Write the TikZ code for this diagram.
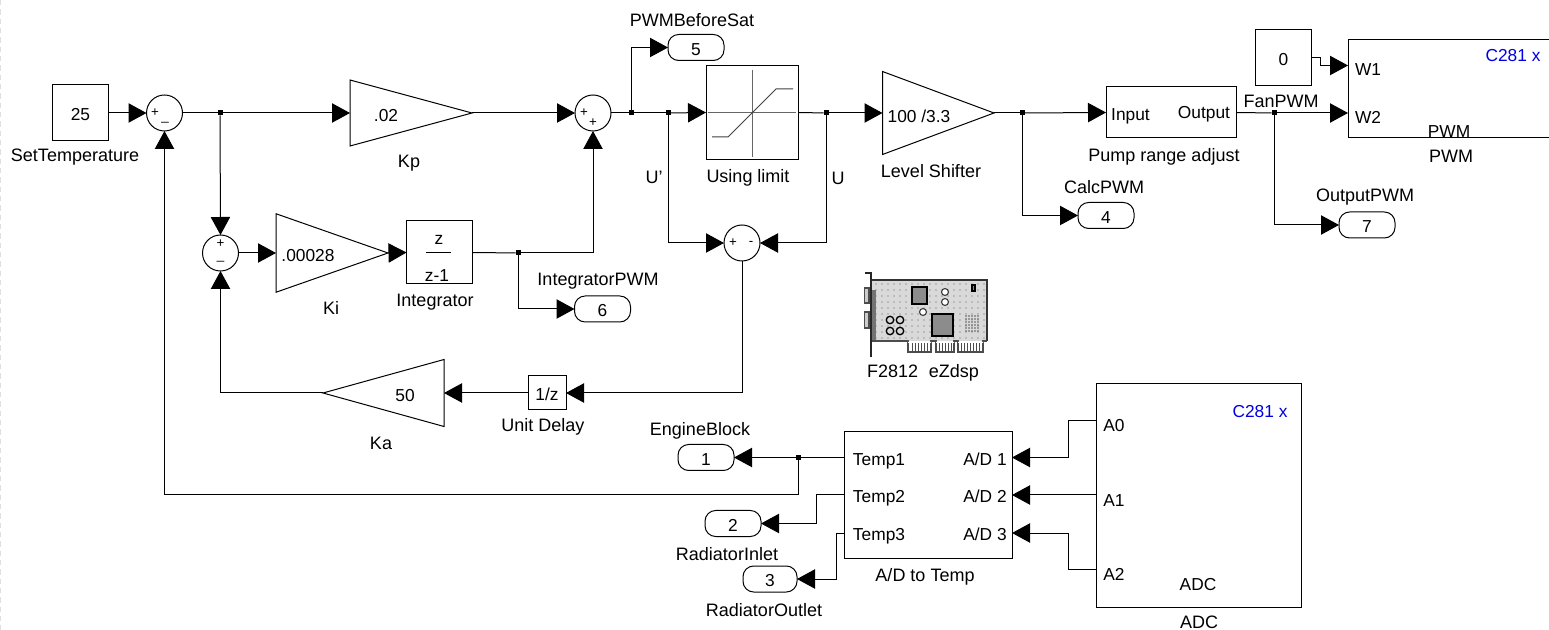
\documentclass[tikz,border=0pt]{standalone}
\usepackage{fontspec}
\setmainfont{Liberation Sans}
\usetikzlibrary{arrows.meta,shapes.geometric}
\tikzset{
  x=.75pt,y=-.75pt,
  every node/.style={inner sep=0pt,outer sep=0pt},
  lbl/.style={font=\fontsize{13.5}{15}\selectfont,text=black,yshift=-1.1pt},
  inlbl/.style={font=\fontsize{13}{15}\selectfont,text=black,yshift=-1.1pt},
  sgn/.style={font=\fontsize{10}{12}\selectfont},
  block/.style={draw=black,line width=.75pt,rectangle,font=\fontsize{13}{15}\selectfont,text height=11.5pt,text depth=0pt},
  sz/.style 2 args={minimum width=#1*.75pt,minimum height=#2*.75pt},
  sumblk/.style={draw=black,line width=.75pt,circle,minimum size=36*.75pt},
  outp/.style={draw=black,line width=.75pt,rectangle,rounded corners=8pt,font=\fontsize{13}{15}\selectfont,text height=11.5pt,text depth=0pt,minimum width=56*.75pt,minimum height=26*.75pt},
  gainr/.style 2 args={draw=black,line width=.75pt,isosceles triangle,isosceles triangle stretches,minimum height=#1*.75pt,minimum width=#2*.75pt},
  gainl/.style 2 args={gainr={#1}{#2},shape border rotate=180},
  jn/.style={fill=black,rectangle,minimum size=5*.75pt},
  conn/.style={draw=black,line width=.75pt},
  sig/.style={conn,-{Triangle[length=13.5pt,width=14.5pt]}},
}
\definecolor{simblue}{RGB}{0,0,225}
\begin{document}
\begin{tikzpicture}
\useasboundingbox (0,0) rectangle (1549,630);
\draw[black!12,line width=.75pt,dash pattern=on 4pt off 3pt] (0.5,0) -- (0.5,630);

% sources and blocks
\node[block,sz={56}{56}] (c25) at (80.5,113) {25};
\node[lbl] (l25) at (75,156) {SetTemperature};
\node[sumblk] (sum1) at (164.5,113) {};
\node[sgn] (s1a) at (155,113) {+};
\node[sgn] (s1b) at (165,122) {\_};
\node[jn] (j1) at (220,113) {};
\node[gainr={122}{66},anchor=lower side] (kp) at (350,113) {};
\node[inlbl] (kpt) at (386,114) {.02};
\node[lbl] (kpl) at (409,162) {Kp};
\node[sumblk] (sum2) at (593,113) {};
\node[sgn] (s2a) at (584,113) {+};
\node[sgn] (s2b) at (593,123) {+};
\node[jn] (j2) at (631,113) {};
\node[jn] (j3) at (668,113) {};
\node[block,sz={92}{93.5}] (sat) at (752,112.5) {};
\draw[black!60,line width=.75pt] (708,113) -- (796,113) (752,70) -- (752,157);
\draw[black!75,line width=.75pt] (712,137) -- (728,137) -- (776,89) -- (793,89);
\node[lbl] (satl) at (748,176) {Using limit};
\node[lbl] (up) at (654,176) {U'};
\node[lbl] (u) at (838,177) {U};
\node[jn] (j4) at (826,113) {};
\node[gainr={111.5}{83},anchor=lower side] (ls) at (882.5,113) {};
\node[inlbl] (lst) at (919,115) {100 /3.3};
\node[lbl] (lsl) at (931,170) {Level Shifter};
\node[jn] (j7) at (1022,113) {};
\node[outp] (op5) at (696,47.5) {5};
\node[lbl] (l5) at (692,19) {PWMBeforeSat};
\node[sumblk] (sum3) at (742,243) {};
\node[sgn] (s3a) at (733,243) {+};
\node[sgn] (s3b) at (751,243) {-};

\node[sumblk] (sum4) at (220.5,253) {};
\node[sgn] (s4a) at (220.5,244) {+};
\node[sgn] (s4b) at (220.5,261) {\_};
\node[gainr={112}{78.5},anchor=lower side] (ki) at (276,253) {};
\node[inlbl] (kit) at (308,254) {.00028};
\node[lbl] (kil) at (331,307) {Ki};
\node[block,sz={66}{63}] (int) at (439.5,252.5) {};
\node[inlbl] (intn) at (439,238) {z};
\draw[line width=.75pt] (426,253) -- (451,253);
\node[inlbl] (intd) at (437,274) {z-1};
\node[lbl] (intl) at (435,301) {Integrator};
\node[jn] (j6) at (518,253) {};
\node[outp] (op6) at (602.5,309) {6};
\node[lbl] (l6) at (598,280) {IntegratorPWM};

\node[block,sz={38}{34}] (ud) at (547,393) {1/z};
\node[lbl] (udl) at (543,425) {Unit Delay};
\node[gainl={121}{67},anchor=lower side] (ka) at (444,393) {};
\node[inlbl] (kat) at (405,394) {50};
\node[lbl] (kal) at (381,442) {Ka};

\node[block,sz={130}{51}] (pump) at (1171,112.5) {};
\node[inlbl] (pi) at (1130.5,115) {Input};
\node[inlbl] (po) at (1204,113) {Output};
\node[lbl] (pl) at (1164,155) {Pump range adjust};
\node[outp] (op4) at (1106,215.5) {4};
\node[lbl] (l4) at (1104,186) {CalcPWM};
\node[block,sz={56}{55.5}] (c0) at (1283.5,57.5) {0};
\node[lbl] (fan) at (1281,100) {FanPWM};
\node[jn] (j8) at (1274,113) {};
\node[sz={201}{98}] (pwm) at (1448.5,89) {};
\draw[conn] (pwm.north east) -- (pwm.north west) -- (pwm.south west) -- (pwm.south east);
\coordinate (w1) at (1348,65.5);
\coordinate (w2) at (1348,113);
\node[inlbl] (w1t) at (1368,68) {W1};
\node[inlbl] (w2t) at (1368,116) {W2};
\node[inlbl] (pwmi) at (1449,130) {PWM};
\node[lbl] (pwml) at (1451,155) {PWM};
\node[inlbl,text=simblue] (pwmc) at (1513,54) {C281 x};
\node[outp] (op7) at (1367,225) {7};
\node[lbl] (l7) at (1365,196) {OutputPWM};

% board icon
\fill[black!15] (872,280) rectangle (987,341);
\foreach \x in {876,882,...,984} \foreach \y in {284,290,...,338} \fill[black!38] (\x,\y) circle (.7pt);
\fill[black!55] (872,290) rectangle (876,340);
\draw[black!80,line width=1.5pt] (872,280) -- (987,280) -- (987,341);
\draw[black!70,line width=1.5pt] (872,341) -- (908,341) -- (908,352) -- (931,352) -- (931,341) -- (936,341) -- (936,352) -- (954,352) -- (954,341) -- (958,341) -- (958,352) -- (983,352) -- (983,341) -- (987,341);
\foreach \x in {912,915,...,929,939,942,...,952,961,964,...,981} \draw[black!70,line width=.7pt] (\x,343) -- (\x,352);
\fill[white] (908,341.8) rectangle (931,343) (936,341.8) rectangle (954,343) (958,341.8) rectangle (983,343);
\draw[black!85,line width=1.5pt] (865,273) -- (870.5,273) -- (870.5,357);
\draw[black!70,fill=black!20,line width=1pt] (864.5,288) rectangle (869,303) (864.5,312) rectangle (869,328);
\draw[black,fill=black!45,line width=1.2pt] (912,287) rectangle (927,304);
\draw[black,fill=black!45,line width=1.2pt] (932,314) rectangle (953,336);
\draw[black,fill=black!45,line width=.8pt] (972,285) rectangle (975,291);
\foreach \a/\b in {945/292,945/302,923/312}
  \draw[black!80,fill=white,line width=.8pt] (\a,\b) circle (2.6pt);
\foreach \a/\b in {890/320,900/320,890/331,900/331}
  \draw[black,fill=black!15,line width=1pt] (\a,\b) circle (2.8pt);
\foreach \a in {966,969,...,979} \foreach \b in {316,319,...,331} \fill[black!65] (\a,\b) circle (.6pt);
\node[lbl] (board) at (923,371) {F2812\hspace{.6em}eZdsp};

% ADC section
\node[block,sz={205.5}{224}] (adc) at (1198.75,495.5) {};
\coordinate (p0) at (1096,421);
\coordinate (p1) at (1096,495);
\coordinate (p2) at (1096,569.5);
\node[inlbl] (a0t) at (1114,424) {A0};
\node[inlbl] (a1t) at (1114,499) {A1};
\node[inlbl] (a2t) at (1114,573) {A2};
\node[inlbl,text=simblue] (adcc) at (1260,410) {C281 x};
\node[inlbl] (adci) at (1198,583) {ADC};
\node[lbl] (adcl) at (1199,621) {ADC};
\node[block,sz={168}{126}] (ad) at (928,495) {};
\coordinate (t1) at (844,457.5);
\coordinate (t2) at (844,495);
\coordinate (t3) at (844,533);
\coordinate (a1) at (1012,457.5);
\coordinate (a2) at (1012,495);
\coordinate (a3) at (1012,533);
\node[inlbl] (t1t) at (879,460) {Temp1};
\node[inlbl] (t2t) at (879,497) {Temp2};
\node[inlbl] (t3t) at (879,535) {Temp3};
\node[inlbl] (d1t) at (985,458) {A/D 1};
\node[inlbl] (d2t) at (985,495) {A/D 2};
\node[inlbl] (d3t) at (985,533) {A/D 3};
\node[lbl] (adl) at (925,575) {A/D to Temp};
\node[jn] (j5) at (798,457.5) {};
\node[outp] (op1) at (706,457.5) {1};
\node[lbl] (l1) at (700,429) {EngineBlock};
\node[outp] (op2) at (733,523.5) {2};
\node[lbl] (l2) at (727,553) {RadiatorInlet};
\node[outp,minimum width=54*.75pt] (op3) at (770,579) {3};
\node[lbl] (l3) at (764,609) {RadiatorOutlet};

% connectors
\draw[sig] (c25.east) -- (sum1.west);
\draw[conn] (sum1.east) -- (j1);
\draw[sig] (j1) -- (kp.lower side);
\draw[sig] (j1) -- (sum4.north);
\draw[sig] (kp.apex) -- (sum2.west);
\draw[conn] (sum2.east) -- (j2);
\draw[conn] (j2) -- (j3);
\draw[sig] (j2) |- (op5.west);
\draw[sig] (j3) -- (sat.west);
\draw[sig] (j3) |- (sum3.west);
\draw[conn] (sat.east) -- (j4);
\draw[sig] (j4) |- (sum3.east);
\draw[sig] (j4) -- (ls.lower side);
\draw[conn] (ls.apex) -- (j7);
\draw[sig] (j7) -- (pump.west);
\draw[sig] (j7) |- (op4.west);
\draw[conn] (pump.east) -- (j8);
\draw[sig] (j8) -- (w2);
\draw[sig] (j8) |- (op7.west);
\draw[sig] (c0.east) -- ++(8.5,0) |- (w1);
\draw[sig] (sum4.east) -- (ki.lower side);
\draw[sig] (ki.apex) -- (int.west);
\draw[conn] (int.east) -- (j6);
\draw[sig] (j6) -| (sum2.south);
\draw[sig] (j6) |- (op6.west);
\draw[sig] (sum3.south) |- (ud.east);
\draw[sig] (ud.west) -- (ka.lower side);
\draw[sig] (ka.apex) -| (sum4.south);
\draw[conn] (t1) -- (j5);
\draw[sig] (j5) -- (op1.east);
\draw[sig] (j5) -- ++(0,37.5) -| (sum1.south);
\draw[sig] (t2) -- ++(-28,0) |- (op2.east);
\draw[sig] (t3) -- ++(-8,0) |- (op3.east);
\draw[sig] (p0) -- ++(-28,0) |- (a1);
\draw[sig] (p1) -- (a2);
\draw[sig] (p2) -- ++(-28,0) |- (a3);
\end{tikzpicture}
\end{document}
